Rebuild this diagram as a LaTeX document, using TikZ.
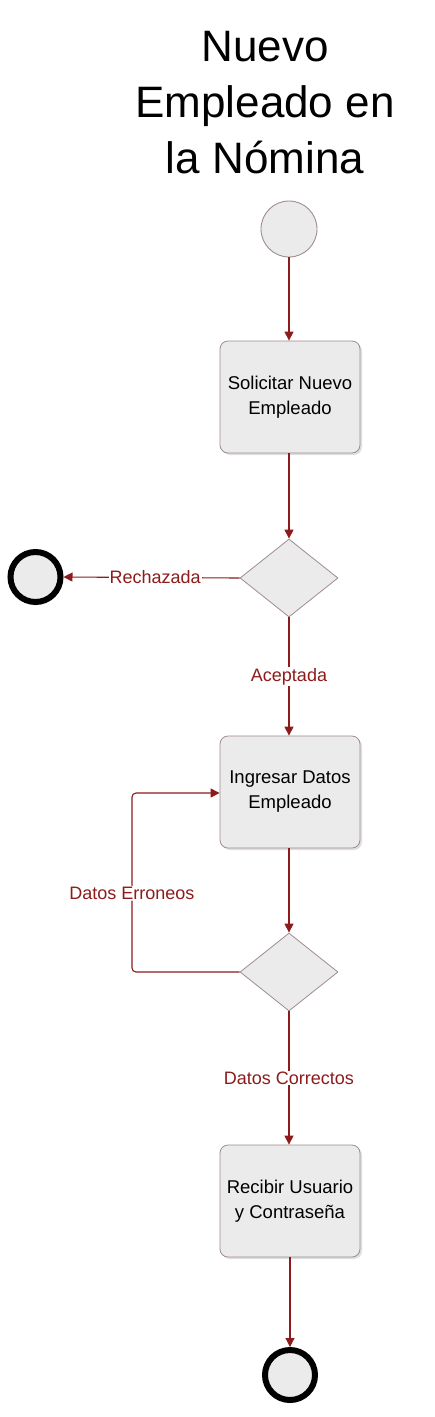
\documentclass[tikz,border=0pt]{standalone}
\usepackage{fontspec}
\setmainfont{Liberation Sans}
\usetikzlibrary{shapes.geometric,arrows.meta,shadows}
\definecolor{lred}{HTML}{8E1B1B}
\definecolor{nfill}{HTML}{EBEBEB}
\definecolor{nline}{HTML}{A08C8C}
\tikzset{
  flow/.style={draw=lred,line width=1.1pt,-{Triangle[length=9pt,width=9pt]}},
  act/.style={draw=nline,fill=nfill,rounded corners=8pt,minimum width=140pt,minimum height=112pt,
    align=center,font=\fontsize{18.5}{25}\selectfont,line width=0.8pt,
    drop shadow={shadow xshift=2pt,shadow yshift=-2pt,opacity=0.25}},
  dec/.style={diamond,draw=nline,fill=nfill,minimum width=98pt,minimum height=78pt,aspect=1.25,
    inner sep=0pt,line width=0.8pt},
  startc/.style={circle,draw=nline,fill=nfill,minimum size=56pt,inner sep=0pt,line width=0.9pt},
  endc/.style={circle,draw=black,fill=nfill,minimum size=50pt,inner sep=0pt,line width=6pt,
    drop shadow={shadow xshift=1.5pt,shadow yshift=-1.5pt,opacity=0.25}},
  lab/.style={text=lred,fill=white,inner sep=1pt,font=\fontsize{18}{20}\selectfont},
  ttl/.style={align=center,font=\fontsize{44}{56}\selectfont}
}
\begin{document}
\begin{tikzpicture}[x=1pt,y=-1pt]
\useasboundingbox (0,0) rectangle (435,1417);
\node[ttl] (title) at (265,103) {Nuevo\\Empleado en\\la Nómina};
\node[startc] (start) at (289,229) {};
\node[act] (a1) at (290,397) {Solicitar Nuevo\\Empleado};
\node[dec] (d1) at (289,578) {};
\node[endc] (e1) at (35.5,577) {};
\node[act] (a2) at (290,792) {Ingresar Datos\\Empleado};
\node[dec] (d2) at (289,972) {};
\node[act] (a3) at (290,1201) {Recibir Usuario\\y Contraseña};
\node[endc] (e2) at (290,1375) {};
\coordinate (lp1) at (132,972);
\coordinate (lp2) at (132,793);
\draw[flow] (start) -- (start |- a1.north);
\draw[flow] (a1.south -| d1) -- (d1.north);
\draw[flow] (d1.west) -- node[lab,pos=0.48]{Rechazada} (e1.east);
\draw[flow] (d1.south) -- node[lab,pos=0.5]{Aceptada} (d1 |- a2.north);
\draw[flow] (a2.south -| d2) -- (d2.north);
\draw[flow,rounded corners=4pt] (d2.west) -- (lp1) -- node[lab,pos=0.44]{Datos Erroneos} (lp2) -- (a2.west |- lp2);
\draw[flow] (d2.south) -- node[lab,pos=0.5]{Datos Correctos} (d2 |- a3.north);
\draw[flow] (a3.south -| e2) -- (e2.north);
\end{tikzpicture}
\end{document}
